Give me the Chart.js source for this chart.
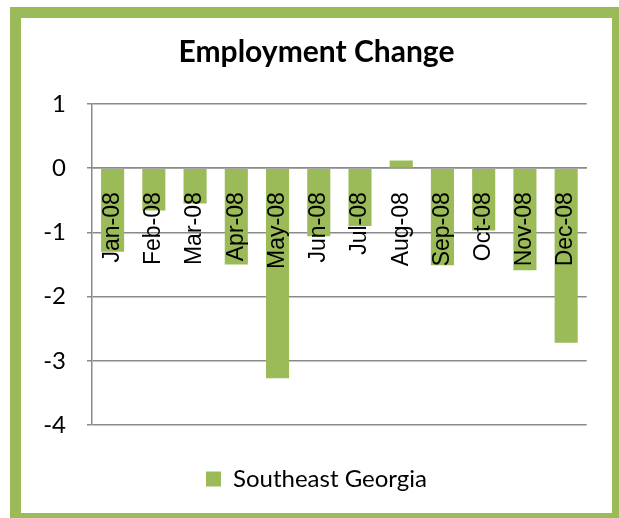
<!DOCTYPE html>
<html>
<head>
<meta charset="utf-8">
<script src="https://cdn.jsdelivr.net/npm/chart.js@4.4.0/dist/chart.umd.min.js"></script>
<style>
    html, body { margin: 0; padding: 0; background: #fff; overflow: hidden; }
    #box { position: relative; width: 619px; height: 518px; }
    #chart { position: absolute; left: 0; top: 0; }
    .frame {
        position: absolute; left: 10px; top: 7px;
        width: 591px; height: 495px;
        border: 11px solid #9bbb59;
        pointer-events: none;
    }
</style>
</head>
<body>
<div id="box">
    <canvas id="chart" width="619" height="518"></canvas>
    <div class="frame"></div>
</div>
<script>
// помесячное изменение занятости
const months = ['Jan-08', 'Feb-08', 'Mar-08', 'Apr-08', 'May-08', 'Jun-08',
                'Jul-08', 'Aug-08', 'Sep-08', 'Oct-08', 'Nov-08', 'Dec-08'];
const employmentChange = [-1.30, -0.66, -0.55, -1.50, -3.27, -1.06,
                          -0.90, 0.12, -1.51, -0.97, -1.59, -2.72];
const yTicks = [1, 0, -1, -2, -3, -4];

const green = '#9bbb59';
const gridGray = '#8a8a8a';

document.addEventListener('DOMContentLoaded', () => {
    new Chart(
        document.getElementById('chart'),
        {
            type: 'bar',
            data: {
                labels: months,
                datasets: [
                    {
                        label: 'Southeast Georgia',
                        data: employmentChange,
                        backgroundColor: green,
                        borderWidth: 0,
                        barPercentage: 0.56,
                        categoryPercentage: 1
                    }
                ]
            },
            options: {
                responsive: false,
                animation: false,
                layout: {
                    padding: { left: 44, right: 30, top: 0, bottom: 17 }
                },
                plugins: {
                    title: {
                        display: true,
                        text: 'Employment Change',
                        color: '#000',
                        font: { family: 'Lato', weight: 'bold', size: 30 },
                        padding: { top: 34, bottom: 34 }
                    },
                    legend: {
                        position: 'bottom',
                        labels: {
                            color: '#000',
                            font: { family: 'Lato', size: 24 },
                            boxWidth: 15,
                            boxHeight: 15,
                            padding: 42
                        }
                    },
                    tooltip: { enabled: false }
                },
                scales: {
                    x: {
                        position: { y: 0 }, // подписи месяцев от нулевой линии
                        grid: { display: false, drawTicks: false },
                        border: { color: gridGray, width: 1.5 },
                        ticks: {
                            z: 1,           // поверх столбцов
                            autoSkip: false,
                            minRotation: 90,
                            maxRotation: 90,
                            color: '#000',
                            padding: 24,
                            font: { family: 'Liberation Sans', size: 23 }
                        }
                    },
                    y: {
                        min: Math.min(...yTicks),
                        max: Math.max(...yTicks),
                        afterFit: scale => { scale.width = 48; },
                        afterBuildTicks: scale => {
                            scale.ticks = yTicks.map(v => ({ value: v }));
                        },
                        grid: { color: gridGray, lineWidth: 1.5, tickLength: 5 },
                        border: { color: gridGray, width: 1.5 },
                        ticks: {
                            color: '#000',
                            padding: 21,
                            font: { family: 'Lato', size: 24 }
                        }
                    }
                }
            }
        }
    );
});
</script>
</body>
</html>
